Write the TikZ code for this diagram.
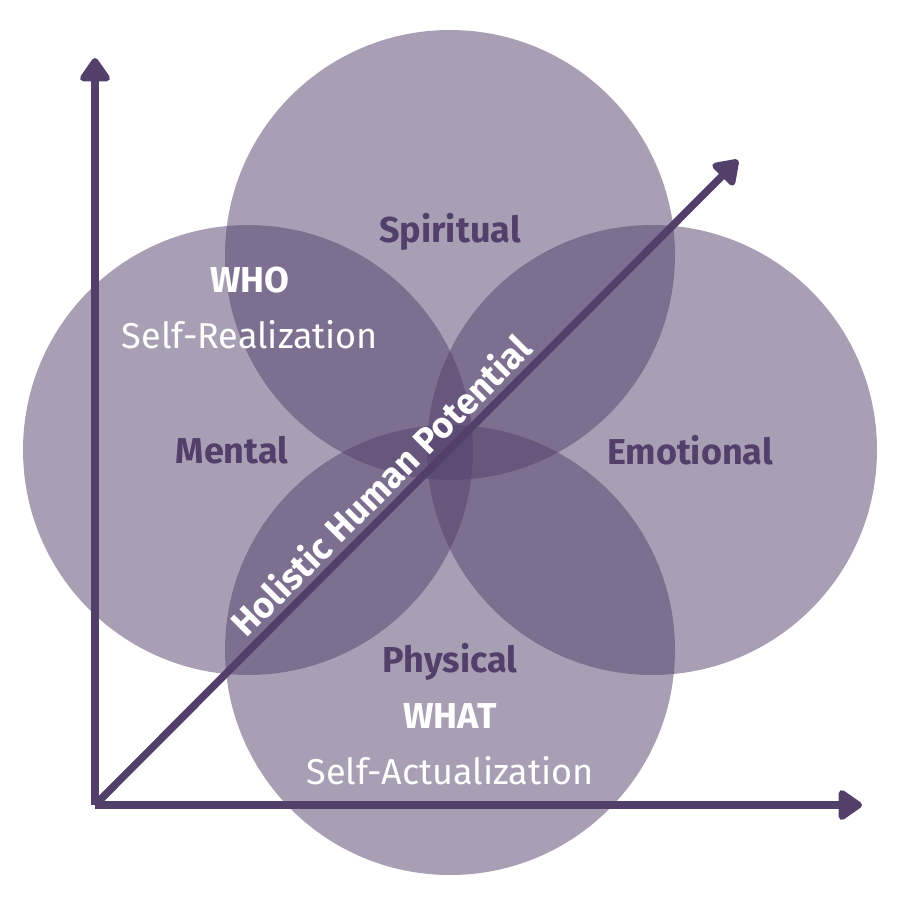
\documentclass[tikz,border=0pt]{standalone}
\usepackage{fontspec}
\setmainfont{Fira Sans}
\usetikzlibrary{arrows.meta}
\definecolor{pur}{HTML}{52406B}
\begin{document}
\begin{tikzpicture}[x=1pt,y=-1pt,
  circ/.style={fill=pur,fill opacity=0.5,draw=none},
  ax/.style={draw=pur,line width=7.5pt,-{Triangle[round,length=26pt,width=34pt]}},
  dk/.style={text=pur,font=\fontsize{36}{38}\selectfont\bfseries},
  wb/.style={text=white,font=\fontsize{36}{38}\selectfont\bfseries},
  wr/.style={text=white,font=\fontsize{36}{38}\selectfont}]
\useasboundingbox (0,0) rectangle (900,900);
\fill[circ] (450,255) circle (225);
\fill[circ] (248,450) circle (225);
\fill[circ] (652,450) circle (225);
\fill[circ] (450,650) circle (225);
\coordinate (o) at (95,805);
\coordinate (t) at (95,58);
\coordinate (r) at (862,805);
\coordinate (d) at (738,160);
\draw[ax] (o) -- (t);
\draw[ax] (o) -- (r);
\draw[ax] (o) -- (d) node[pos=0.47,sloped,above=2pt,wb]{Holistic Human Potential};
\node[dk] (sp) at (450,232) {Spiritual};
\node[dk] (me) at (232,450) {Mental};
\node[dk] (em) at (690,450) {Emotional};
\node[dk] (ph) at (450,662) {Physical};
\node[wb] (who) at (250,280) {WHO};
\node[wr] (sr) at (250,335) {Self-Realization};
\node[wb] (what) at (450,716) {WHAT};
\node[wr] (sa) at (450,771) {Self-Actualization};
\end{tikzpicture}
\end{document}
